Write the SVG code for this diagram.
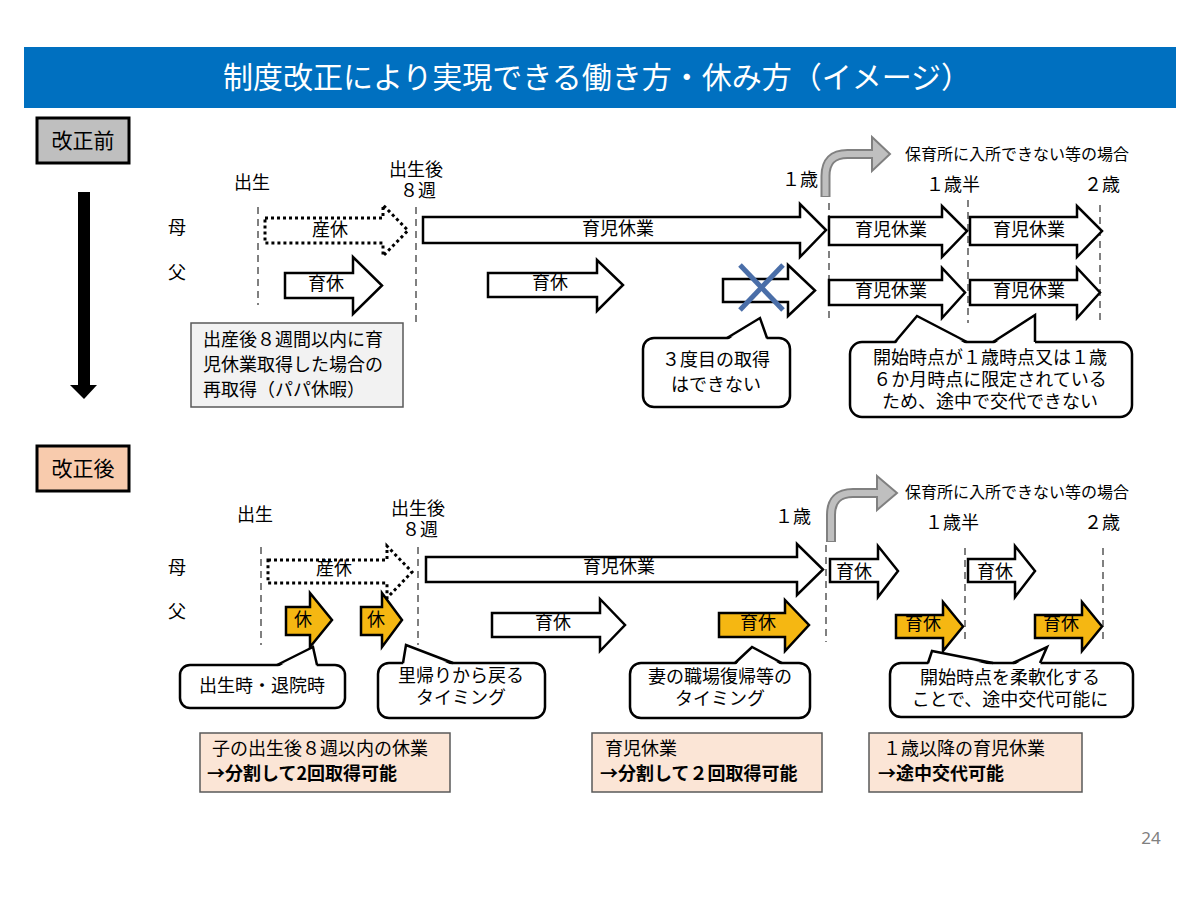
<svg xmlns="http://www.w3.org/2000/svg" width="1200" height="900" viewBox="0 0 1200 900">
<style>
.t{font-family:"Noto Sans CJK JP","Noto Sans CJK SC",sans-serif;font-size:18px;fill:#000}
.m{text-anchor:middle}
.b{font-weight:bold}
.arr{fill:#fff;stroke:#000;stroke-width:2.5;stroke-linejoin:miter}
.ay{fill:#F5B712;stroke:#000;stroke-width:2.5}
.dot{fill:#fff;stroke:#000;stroke-width:3;stroke-dasharray:3 3}
.dash{stroke:#808080;stroke-width:2;stroke-dasharray:7 5;fill:none}
.cr{fill:#fff;stroke:#000;stroke-width:2.5}
.tailf{fill:#fff;stroke:none}
.tails{fill:none;stroke:#000;stroke-width:2.5;stroke-linejoin:miter}
.note{fill:#F2F2F2;stroke:#595959;stroke-width:1.5}
.info{fill:#FBE5D6;stroke:#595959;stroke-width:1.5}
.bo{fill:none;stroke:#808080;stroke-width:10}
.bi{fill:none;stroke:#BFBFBF;stroke-width:6}
.bh{fill:#BFBFBF;stroke:#808080;stroke-width:2}
</style>

<g id="title">
<rect x="24" y="47" width="1152" height="61" fill="#0070C0"/>
<text class="t m" x="597" y="88" style="font-size:30px;fill:#fff">制度改正により実現できる働き方・休み方（イメージ）</text>
</g>

<g id="label-before">
<rect x="37" y="118" width="92" height="45" fill="#BFBFBF" stroke="#000" stroke-width="3"/>
<text class="t m" x="83" y="148" style="font-size:21px">改正前</text>
</g>
<g id="down-arrow">
<rect x="78" y="192" width="12" height="194" fill="#000"/>
<polygon points="70,385 97,385 84,399" fill="#000"/>
</g>
<g id="label-after">
<rect x="37" y="446" width="92" height="45" fill="#F8CBAD" stroke="#000" stroke-width="3"/>
<text class="t m" x="83" y="476" style="font-size:21px">改正後</text>
</g>

<g id="connectors">
<line class="dash" x1="258" y1="207" x2="258" y2="305"/>
<line class="dash" x1="416" y1="207" x2="416" y2="323"/>
<line class="dash" x1="829" y1="203" x2="829" y2="323"/>
<line class="dash" x1="968" y1="200" x2="968" y2="323"/>
<line class="dash" x1="1100" y1="205" x2="1100" y2="323"/>
<line class="dash" x1="261" y1="547" x2="261" y2="645"/>
<line class="dash" x1="418" y1="547" x2="418" y2="645"/>
<line class="dash" x1="826" y1="545" x2="826" y2="642"/>
<line class="dash" x1="965" y1="548" x2="965" y2="642"/>
<line class="dash" x1="1103" y1="548" x2="1103" y2="642"/>
<g id="bent-before">
<path class="bo" d="M825.5 197 L825.5 176 Q825.5 154 847.5 154 L874 154"/>
<polygon class="bh" points="872,137 890,154 872,171"/>
<path class="bi" d="M825.5 196 L825.5 176 Q825.5 154 847.5 154 L875 154"/>
</g>
<g id="bent-after">
<path class="bo" d="M831 542 L831 515 Q831 493 853 493 L879 493"/>
<polygon class="bh" points="877,476 897,493 877,510"/>
<path class="bi" d="M831 541 L831 515 Q831 493 853 493 L880 493"/>
</g>
</g>

<g id="timeline-before">
<text class="t m" x="252" y="189">出生</text>
<text class="t m" x="416" y="176">出生後</text>
<text class="t m" x="418" y="197">８週</text>
<text class="t m" x="800" y="186">１歳</text>
<text class="t m" x="953" y="191">１歳半</text>
<text class="t m" x="1102" y="191">２歳</text>
<text class="t" x="905" y="160" style="font-size:16px">保育所に入所できない等の場合</text>
<text class="t m" x="177" y="234">母</text>
<text class="t m" x="177" y="279">父</text>
</g>

<g id="b-sankyu">
<polygon class="dot" points="265,218 383,218 383,205 408,230.5 383,256 383,243 265,243"/>
<text class="t m" x="330" y="236">産休</text>
</g>
<g id="b-father-ikukyu1">
<polygon class="arr" points="285,273 353,273 353,257 382,285.5 353,314 353,298 285,298"/>
<text class="t m" x="326" y="290">育休</text>
</g>
<g id="b-mother-ikuji">
<polygon class="arr" points="423,217 800,217 800,204 826,230 800,257 800,243 423,243"/>
<text class="t m" x="618" y="235">育児休業</text>
</g>
<g id="b-father-ikukyu2">
<polygon class="arr" points="488,273 597,273 597,260 623,285 597,311 597,297 488,297"/>
<text class="t m" x="550" y="289">育休</text>
</g>
<g id="b-father-crossed">
<polygon class="arr" points="723,279 788,279 788,265 815,290.5 788,316 788,302 723,302"/>
<line x1="740" y1="265" x2="783" y2="310" stroke="#4A6EA8" stroke-width="5"/>
<line x1="783" y1="265" x2="740" y2="310" stroke="#4A6EA8" stroke-width="5"/>
</g>
<g id="b-mother-ext1">
<polygon class="arr" points="829,217 942,217 942,206 967,231 942,257 942,245 829,245"/>
<text class="t m" x="891" y="236">育児休業</text>
</g>
<g id="b-mother-ext2">
<polygon class="arr" points="970,217 1077,217 1077,206 1102,231 1077,257 1077,245 970,245"/>
<text class="t m" x="1029" y="236">育児休業</text>
</g>
<g id="b-father-ext1">
<polygon class="arr" points="829,280 942,280 942,268 965,292.5 942,318 942,305 829,305"/>
<text class="t m" x="891" y="297">育児休業</text>
</g>
<g id="b-father-ext2">
<polygon class="arr" points="970,280 1077,280 1077,268 1100,292.5 1077,318 1077,305 970,305"/>
<text class="t m" x="1029" y="297">育児休業</text>
</g>

<g id="b-note-papa">
<rect class="note" x="191" y="323" width="212" height="84"/>
<text class="t" x="203" y="346">出産後８週間以内に育</text>
<text class="t" x="203" y="371">児休業取得した場合の</text>
<text class="t" x="203" y="396">再取得（パパ休暇）</text>
</g>
<g id="b-callout-third">
<rect class="cr" x="643" y="338" width="147" height="69" rx="11"/>
<polygon class="tailf" points="727,340.5 760,318 767,340.5"/>
<polyline class="tails" points="727,338 760,318 767,338"/>
<text class="t m" x="716" y="366">３度目の取得</text>
<text class="t m" x="716" y="391">はできない</text>
</g>
<g id="b-callout-fixed">
<rect class="cr" x="850" y="342" width="282" height="75" rx="12"/>
<polygon class="tailf" points="895,344.5 917,316 967,344.5"/>
<polyline class="tails" points="895,342 917,316 967,342"/>
<polygon class="tailf" points="993,344.5 1035,315 1035,344.5"/>
<polyline class="tails" points="993,342 1035,315 1035,342"/>
<text class="t m" x="990" y="364">開始時点が１歳時点又は１歳</text>
<text class="t m" x="990" y="386">６か月時点に限定されている</text>
<text class="t m" x="990" y="408">ため、途中で交代できない</text>
</g>

<g id="timeline-after">
<text class="t m" x="255" y="521">出生</text>
<text class="t m" x="418" y="515">出生後</text>
<text class="t m" x="420" y="536">８週</text>
<text class="t m" x="793" y="523">１歳</text>
<text class="t m" x="952" y="529">１歳半</text>
<text class="t m" x="1102" y="529">２歳</text>
<text class="t" x="905" y="498" style="font-size:16px">保育所に入所できない等の場合</text>
<text class="t m" x="177" y="574">母</text>
<text class="t m" x="177" y="618">父</text>
</g>

<g id="a-sankyu">
<polygon class="dot" points="268,560 387,560 387,546 412,572 387,598 387,583 268,583"/>
<text class="t m" x="334" y="575">産休</text>
</g>
<g id="a-father-kyu1">
<polygon class="ay" points="286,607 310,607 310,593 332,620 310,647 310,635 286,635"/>
<text class="t m" x="303" y="626">休</text>
</g>
<g id="a-father-kyu2">
<polygon class="ay" points="361,607 382,607 382,593 402,620 382,647 382,635 361,635"/>
<text class="t m" x="376" y="626">休</text>
</g>
<g id="a-mother-ikuji">
<polygon class="arr" points="426,557 797,557 797,544 823,569.5 797,595 797,582 426,582"/>
<text class="t m" x="619" y="573">育児休業</text>
</g>
<g id="a-father-ikukyu1">
<polygon class="arr" points="492,613 600,613 600,599 625,625 600,651 600,637 492,637"/>
<text class="t m" x="553" y="629">育休</text>
</g>
<g id="a-father-ikukyu2">
<polygon class="ay" points="719,613 785,613 785,600 809,625 785,651 785,637 719,637"/>
<text class="t m" x="758" y="629">育休</text>
</g>
<g id="a-mother-ext1">
<polygon class="arr" points="830,559 878,559 878,546 898,571 878,597 878,582 830,582"/>
<text class="t m" x="854" y="578">育休</text>
</g>
<g id="a-mother-ext2">
<polygon class="arr" points="968,559 1015,559 1015,546 1035,571 1015,597 1015,582 968,582"/>
<text class="t m" x="995" y="578">育休</text>
</g>
<g id="a-father-ext1">
<polygon class="ay" points="896,615 943,615 943,602 963,626.5 943,651 943,638 896,638"/>
<text class="t m" x="923" y="630">育休</text>
</g>
<g id="a-father-ext2">
<polygon class="ay" points="1035,615 1082,615 1082,602 1102,626.5 1082,651 1082,638 1035,638"/>
<text class="t m" x="1061" y="630">育休</text>
</g>

<g id="a-callout-birth">
<rect class="cr" x="180" y="665" width="165" height="43" rx="10"/>
<polygon class="tailf" points="277,667.5 313,647 317,667.5"/>
<polyline class="tails" points="277,665 313,647 317,665"/>
<text class="t m" x="262" y="692">出生時・退院時</text>
</g>
<g id="a-callout-return">
<rect class="cr" x="378" y="663" width="167" height="55" rx="11"/>
<polygon class="tailf" points="403,665.5 406,645 453,665.5"/>
<polyline class="tails" points="403,663 406,645 453,663"/>
<text class="t m" x="461" y="682">里帰りから戻る</text>
<text class="t m" x="461" y="704">タイミング</text>
</g>
<g id="a-callout-wife">
<rect class="cr" x="630" y="663" width="180" height="55" rx="11"/>
<polygon class="tailf" points="735,665.5 752,647 782,665.5"/>
<polyline class="tails" points="735,663 752,647 782,663"/>
<text class="t m" x="720" y="683">妻の職場復帰等の</text>
<text class="t m" x="720" y="705">タイミング</text>
</g>
<g id="a-callout-flex">
<rect class="cr" x="890" y="663" width="243" height="54" rx="11"/>
<polygon class="tailf" points="928,665.5 932,651 993,665.5"/>
<polyline class="tails" points="928,663 932,651 993,663"/>
<polygon class="tailf" points="1013,665.5 1047,647 1040,665.5"/>
<polyline class="tails" points="1013,663 1047,647 1040,663"/>
<text class="t m" x="1010" y="684">開始時点を柔軟化する</text>
<text class="t m" x="1010" y="706">ことで、途中交代可能に</text>
</g>

<g id="info-1">
<rect class="info" x="200" y="733" width="250" height="59"/>
<text class="t" x="212" y="755">子の出生後８週以内の休業</text>
<text class="t b" x="207" y="780">→分割して2回取得可能</text>
</g>
<g id="info-2">
<rect class="info" x="592" y="733" width="230" height="59"/>
<text class="t" x="605" y="755">育児休業</text>
<text class="t b" x="600" y="780">→分割して２回取得可能</text>
</g>
<g id="info-3">
<rect class="info" x="869" y="733" width="213" height="59"/>
<text class="t" x="883" y="755">１歳以降の育児休業</text>
<text class="t b" x="878" y="780">→途中交代可能</text>
</g>

<text x="1151" y="844" text-anchor="middle" style="font-family:'Noto Sans',sans-serif;font-size:17px;fill:#808080">24</text>
</svg>
